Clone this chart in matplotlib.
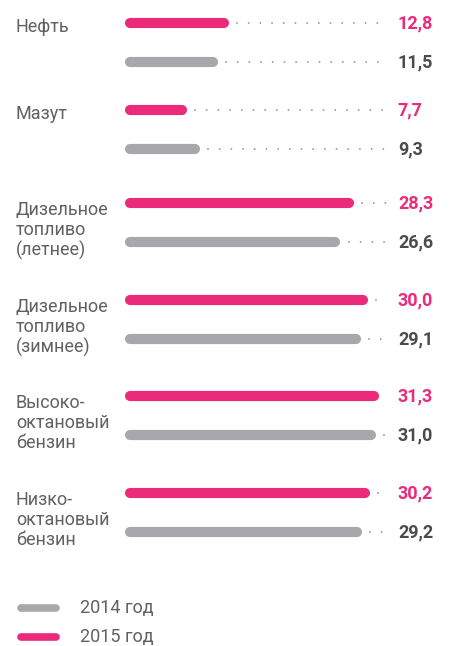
import matplotlib
matplotlib.use('Agg')
import matplotlib.pyplot as plt
import numpy as np

categories = ['Нефть', 'Мазут', 'Дизельное\nтопливо\n(летнее)',
              'Дизельное\nтопливо\n(зимнее)', 'Высоко-\nоктановый\nбензин',
              'Низко-\nоктановый\nбензин']
values_2015 = [12.8, 7.7, 28.3, 30.0, 31.3, 30.2]
values_2014 = [11.5, 9.3, 26.6, 29.1, 31.0, 29.2]
labels_2015 = ['12,8', '7,7', '28,3', '30,0', '31,3', '30,2']
labels_2014 = ['11,5', '9,3', '26,6', '29,1', '31,0', '29,2']
legend_labels = ['2014 год', '2015 год']

PINK = '#ec2a7a'
GREY = '#a7a8ab'
DARK = '#4b4b4d'
TEXT = '#606163'
plt.rcParams['font.family'] = ['Roboto', 'DejaVu Sans']

W, H = 451, 646
fig = plt.figure(figsize=(W / 100, H / 100), dpi=100)
ax = fig.add_axes([0, 0, 1, 1])
ax.axis('off')

s = 8.1           # pixels per unit
x0 = 125          # pixel where bars start
ax.set_xlim(-x0 / s, (W - x0) / s)
ax.set_ylim(H, 0)  # y in pixel rows

group_y = [23, 110, 203, 300, 396, 493]   # row of the 2015 bar
gap = 39
cap = 5 / s        # half bar thickness in units
dot_end = (387 - x0) / s
val_x = (398 - x0) / s
lab_x = -(x0 - 16) / s

def bar(y, v, color, label, tcolor):
    ax.plot([cap, v - cap], [y, y], color=color, lw=7.3,
            solid_capstyle='round')
    ax.plot([v + 1.0, dot_end], [y, y], color='#9a9b9d', lw=1.4,
            linestyle=(0, (0.01, 6.0)), dash_capstyle='round')
    ax.text(val_x, y, label, color=tcolor, fontsize=13, fontweight='bold',
            ha='left', va='center')

for i, cat in enumerate(categories):
    y = group_y[i]
    bar(y, values_2015[i], PINK, labels_2015[i], PINK)
    bar(y + gap, values_2014[i], GREY, labels_2014[i], DARK)
    ax.text(lab_x, y - 5 + (3 if '\n' in cat else 0), cat, color=TEXT,
            fontsize=13, ha='left', va='top', linespacing=1.13)

# legend
for y, c, t in zip([608, 637], [GREY, PINK], legend_labels):
    ax.plot([-(x0 - 21) / s, -(x0 - 56) / s], [y, y], color=c, lw=5.5,
            solid_capstyle='round')
    ax.text(-(x0 - 80) / s, y, t, color=TEXT, fontsize=13, ha='left',
            va='center')

fig.savefig('out.png', dpi=100)
